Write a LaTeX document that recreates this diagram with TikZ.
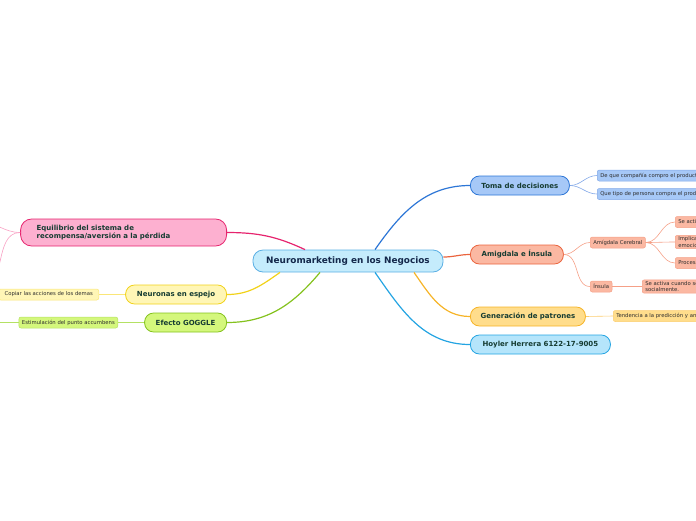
\documentclass[tikz,border=0pt]{standalone}
\usepackage{fontspec}
\setmainfont{DejaVu Sans}
\usetikzlibrary{positioning}

\definecolor{inkcentral}{RGB}{20,40,75}
\definecolor{inktopic}{RGB}{22,60,50}
\definecolor{inkdetail}{RGB}{45,45,45}
\definecolor{centralfill}{RGB}{197,236,252}
\definecolor{centralline}{RGB}{90,175,228}
\definecolor{tomafill}{RGB}{166,200,247}
\definecolor{tomaline}{RGB}{45,118,214}
\definecolor{tomatwig}{RGB}{130,168,232}
\definecolor{amigfill}{RGB}{251,184,162}
\definecolor{amigline}{RGB}{234,100,62}
\definecolor{amigtwig}{RGB}{245,160,135}
\definecolor{genfill}{RGB}{255,221,140}
\definecolor{genline}{RGB}{246,180,40}
\definecolor{gentwig}{RGB}{252,205,110}
\definecolor{hoyfill}{RGB}{181,229,251}
\definecolor{hoyline}{RGB}{36,164,226}
\definecolor{equifill}{RGB}{253,176,208}
\definecolor{equiline}{RGB}{230,36,110}
\definecolor{equitwig}{RGB}{248,160,195}
\definecolor{neufill}{RGB}{255,246,182}
\definecolor{neuline}{RGB}{241,210,26}
\definecolor{neutwig}{RGB}{250,230,120}
\definecolor{efefill}{RGB}{212,247,124}
\definecolor{efeline}{RGB}{132,194,30}
\definecolor{efetwig}{RGB}{180,225,100}

\tikzset{
  central/.style={draw=centralline, fill=centralfill, line width=0.8pt, rounded corners=10pt,
    minimum width=190pt, minimum height=22pt, inner sep=0pt, text=inkcentral,
    font=\fontsize{8.9}{10}\selectfont\bfseries},
  topic/.style={line width=0.8pt, rounded corners=9pt, minimum height=19pt, inner sep=0pt,
    anchor=west, text=inktopic, font=\fontsize{7}{8.2}\selectfont\bfseries},
  detail/.style={line width=0.5pt, rounded corners=2pt, minimum height=11pt, inner xsep=3pt,
    inner ysep=1.5pt, align=left, text=inkdetail, font=\fontsize{5.3}{6.2}\selectfont},
  branch/.style={line width=1.2pt},
  twig/.style={line width=0.6pt}
}

\begin{document}
\begin{tikzpicture}[x=1pt,y=-1pt]
    \useasboundingbox (0,0) rectangle (696,520);
    \clip (0,0) rectangle (696,520);

    \node (neuro) [central] at (348,261) {Neuromarketing en los Negocios};

    % right side
    \node (toma) [topic, draw=tomaline, fill=tomafill, minimum width=99pt] at (470,185.5) {Toma de decisiones};
    \node (compania) [detail, anchor=west, draw=tomatwig, fill=tomafill] at (597,175.5) {De que compañía compro el producto};
    \node (persona) [detail, anchor=west, draw=tomatwig, fill=tomafill] at (597,194) {Que tipo de persona compra el producto};

    \node (amigdala) [topic, draw=amigline, fill=amigfill, minimum width=93pt] at (470,254.5) {Amigdala e Ínsula};
    \node (cerebral) [detail, anchor=west, draw=amigtwig, fill=amigfill] at (590,242.5) {Amígdala Cerebral};
    \node (activa) [detail, anchor=west, draw=amigtwig, fill=amigfill] at (675,222) {Se activa ante el miedo};
    \node (implica) [detail, anchor=west, draw=amigtwig, fill=amigfill] at (675,242) {Implicada en las\\emociones};
    \node (procesa) [detail, anchor=west, draw=amigtwig, fill=amigfill] at (675,263) {Procesa las emociones};
    \node (insula) [detail, anchor=west, draw=amigtwig, fill=amigfill] at (590,286.5) {Ínsula};
    \node (rechazo) [detail, anchor=west, draw=amigtwig, fill=amigfill] at (642,286.5) {Se activa cuando somos rechazados\\socialmente.};

    \node (patrones) [topic, draw=genline, fill=genfill, minimum width=115pt] at (470,316.5) {Generación de patrones};
    \node (tendencia) [detail, anchor=west, draw=gentwig, fill=genfill] at (613,316) {Tendencia a la predicción y anticipación};

    \node (hoyler) [topic, draw=hoyline, fill=hoyfill, minimum width=140pt] at (470,344.5) {Hoyler Herrera 6122-17-9005};

    % left side
    \node (equilibrio) [topic, anchor=east, draw=equiline, fill=equifill, minimum width=206pt, minimum height=27pt,
      text width=174pt, inner xsep=16pt, align=left, rounded corners=11pt] at (227,232.5) {Equilibrio del sistema de\\recompensa/aversión a la pérdida};
    \coordinate (equiup) at (-20,222);
    \coordinate (equidown) at (-20,290);

    \node (espejo) [topic, anchor=east, draw=neuline, fill=neufill, minimum width=101pt] at (227,294.5) {Neuronas en espejo};
    \node (copiar) [detail, anchor=east, draw=neutwig, fill=neufill, minimum width=100pt] at (99,294.5) {Copiar las acciones de los demas};

    \node (goggle) [topic, anchor=east, draw=efeline, fill=efefill, minimum width=82pt] at (227,322.5) {Efecto GOGGLE};
    \node (accumbens) [detail, anchor=east, draw=efetwig, fill=efefill] at (118,322.5) {Estimulación del punto accumbens};
    \coordinate (efeout) at (-20,322.5);

    % main branches
    \draw [branch, tomaline] ([xshift=27pt]neuro.north) to[out=55,in=180] (toma.west);
    \draw [branch, amigline] ([yshift=4pt]neuro.east) to[out=0,in=180] (amigdala.west);
    \draw [branch, genline] ([xshift=66pt]neuro.south) to[out=-55,in=180] (patrones.west);
    \draw [branch, hoyline] ([xshift=27pt]neuro.south) to[out=-55,in=180] (hoyler.west);
    \draw [branch, equiline] ([xshift=-43pt]neuro.north) to[out=155,in=0] (equilibrio.east);
    \draw [branch, neuline] ([xshift=-68pt]neuro.south) to[out=-145,in=0] (espejo.east);
    \draw [branch, efeline] ([xshift=-28pt]neuro.south) to[out=-130,in=0] (goggle.east);

    % sub branches
    \draw [twig, tomatwig] (toma.east) to[out=0,in=180] (compania.west);
    \draw [twig, tomatwig] (toma.east) to[out=0,in=180] (persona.west);
    \draw [twig, amigtwig] (amigdala.east) to[out=0,in=180] (cerebral.west);
    \draw [twig, amigtwig] (amigdala.east) to[out=0,in=180] (insula.west);
    \draw [twig, amigtwig] (cerebral.east) to[out=0,in=180] (activa.west);
    \draw [twig, amigtwig] (cerebral.east) to[out=0,in=180] (implica.west);
    \draw [twig, amigtwig] (cerebral.east) to[out=0,in=180] (procesa.west);
    \draw [twig, amigtwig] (insula.east) -- (rechazo.west);
    \draw [twig, gentwig] (patrones.east) -- (tendencia.west);
    \draw [twig, equitwig] (equilibrio.west) to[out=180,in=0] (equiup);
    \draw [twig, equitwig] (equilibrio.west) to[out=180,in=0] (equidown);
    \draw [twig, neutwig] (espejo.west) -- (copiar.east);
    \draw [twig, efetwig] (goggle.west) -- (accumbens.east);
    \draw [twig, efetwig] (accumbens.west) -- (efeout);
\end{tikzpicture}
\end{document}
